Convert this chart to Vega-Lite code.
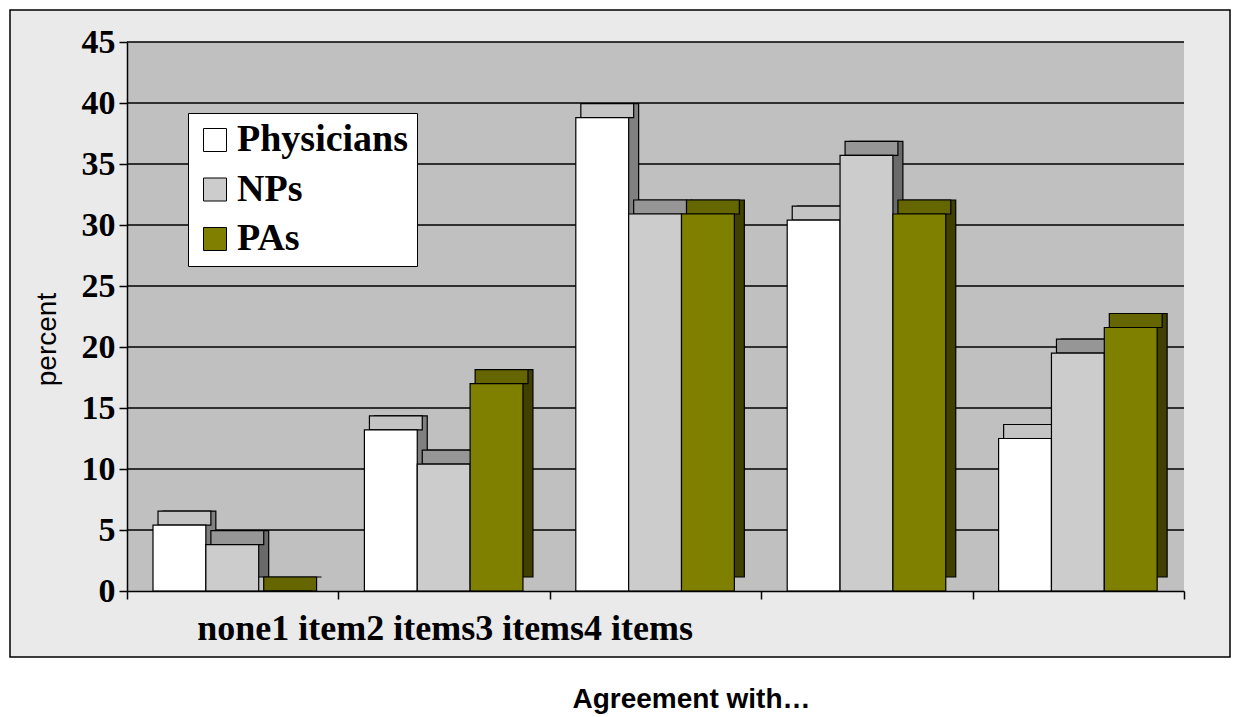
{
  "$schema": "https://vega.github.io/schema/vega-lite/v6.json",
  "width": 1057,
  "height": 549,
  "autosize": {"type": "none"},
  "padding": {"left": 127, "top": 42, "right": 57, "bottom": 126},
  "background": "white",
  "config": {"view": {"stroke": null}},
  "datasets": {
    "bars": [
      {"category": "none", "group": "Physicians", "value": 5.4},
      {"category": "none", "group": "NPs", "value": 3.8},
      {"category": "none", "group": "PAs", "value": 0},
      {"category": "1 item", "group": "Physicians", "value": 13.2},
      {"category": "1 item", "group": "NPs", "value": 10.4},
      {"category": "1 item", "group": "PAs", "value": 17.0},
      {"category": "2 items", "group": "Physicians", "value": 38.8},
      {"category": "2 items", "group": "NPs", "value": 30.9},
      {"category": "2 items", "group": "PAs", "value": 30.9},
      {"category": "3 items", "group": "Physicians", "value": 30.4},
      {"category": "3 items", "group": "NPs", "value": 35.7},
      {"category": "3 items", "group": "PAs", "value": 30.9},
      {"category": "4 items", "group": "Physicians", "value": 12.5},
      {"category": "4 items", "group": "NPs", "value": 19.5},
      {"category": "4 items", "group": "PAs", "value": 21.6}
    ],
    "grid": [{"tick": 5}, {"tick": 10}, {"tick": 15}, {"tick": 20}, {"tick": 25}, {"tick": 30}, {"tick": 35}, {"tick": 40}, {"tick": 45}]
  },
  "layer": [
    {
      "data": {"values": [{}]},
      "mark": {"type": "rect", "fill": "#EAEAEA", "stroke": "black", "strokeWidth": 1.5, "clip": false},
      "encoding": {"x": {"value": -117}, "x2": {"value": 1103}, "y": {"value": -32}, "y2": {"value": 615}}
    },
    {
      "data": {"values": [{}]},
      "mark": {"type": "rect", "fill": "#C0C0C0"},
      "encoding": {"x": {"value": 0}, "x2": {"value": "width"}, "y": {"value": 0}, "y2": {"value": "height"}}
    },
    {
      "data": {"name": "grid"},
      "mark": {"type": "rule", "color": "black", "strokeWidth": 1.5},
      "encoding": {
        "y": {
          "field": "tick", "type": "quantitative", "title": "percent",
          "scale": {"domain": [0, 45], "nice": false},
          "axis": {
            "values": [0, 5, 10, 15, 20, 25, 30, 35, 40, 45], "grid": false,
            "title": "percent", "titleFont": "Liberation Sans", "titleFontWeight": "normal", "titleFontSize": 28, "titleColor": "black",
            "titleX": -80, "titleY": 297, "titleAngle": -90, "titleAlign": "center", "titleBaseline": "middle",
            "labelFont": "Liberation Serif", "labelFontWeight": "bold", "labelFontSize": 34, "labelColor": "black", "labelPadding": 4,
            "tickSize": 8, "tickColor": "black", "tickWidth": 1.5, "domainColor": "black", "domainWidth": 1.5, "zindex": 1
          }
        }
      }
    },
    {
      "data": {"name": "bars"},
      "encoding": {
        "x": {
          "field": "category", "type": "nominal",
          "sort": ["none", "1 item", "2 items", "3 items", "4 items"],
          "scale": {"paddingInner": 0, "paddingOuter": 0},
          "axis": {
            "title": "Agreement with…", "titleFont": "Liberation Sans", "titleFontWeight": "bold", "titleFontSize": 28, "titleColor": "black",
            "titleX": 564, "titleY": 116, "titleAlign": "center", "titleBaseline": "alphabetic", "titleAnchor": null,
            "labelExpr": "datum.value == 'none' ? 'none1 item2 items3 items4 items' : ''",
            "labelAlign": "left", "labelOffset": -36, "labelFont": "Liberation Serif", "labelFontWeight": "bold", "labelFontSize": 36,
            "labelColor": "black", "labelPadding": 40, "labelBaseline": "alphabetic", "labelAngle": 0, "labelOverlap": false, "labelBound": false, "labelFlush": false, "labelLimit": 0,
            "tickBand": "extent", "tickSize": 8, "tickColor": "black", "tickWidth": 1.5, "domainColor": "black", "domainWidth": 1.5, "grid": false, "zindex": 1
          }
        },
        "y": {
          "field": "value", "type": "quantitative", "title": "percent",
          "scale": {"domain": [0, 45], "nice": false},
          "axis": {
            "values": [0, 5, 10, 15, 20, 25, 30, 35, 40, 45], "grid": false,
            "title": "percent", "titleFont": "Liberation Sans", "titleFontWeight": "normal", "titleFontSize": 28, "titleColor": "black",
            "titleX": -80, "titleY": 297, "titleAngle": -90, "titleAlign": "center", "titleBaseline": "middle",
            "labelFont": "Liberation Serif", "labelFontWeight": "bold", "labelFontSize": 34, "labelColor": "black", "labelPadding": 4,
            "tickSize": 8, "tickColor": "black", "tickWidth": 1.5, "domainColor": "black", "domainWidth": 1.5, "zindex": 1
          }
        }
      },
      "layer": [
        {
          "mark": {"type": "bar", "stroke": "black", "strokeWidth": 1.2, "yOffset": -14, "y2Offset": -14},
          "encoding": {
            "xOffset": {"field": "group", "type": "nominal", "sort": ["Physicians", "NPs", "PAs"], "scale": {"paddingInner": 0, "paddingOuter": 0.5, "align": 0.681}},
            "color": {"field": "group", "type": "nominal", "legend": null,
              "scale": {"domain": ["Physicians", "NPs", "PAs"], "range": ["#808080", "#6A6A6A", "#404000"]}}
          }
        },
        {
          "mark": {"type": "bar", "stroke": "black", "strokeWidth": 1.2, "yOffset": -14, "y2Offset": 0},
          "encoding": {
            "xOffset": {"field": "group", "type": "nominal", "sort": ["Physicians", "NPs", "PAs"], "scale": {"paddingInner": 0, "paddingOuter": 0.5, "align": 0.587}},
            "y2": {"field": "value"},
            "color": {"field": "group", "type": "nominal", "legend": null,
              "scale": {"domain": ["Physicians", "NPs", "PAs"], "range": ["#C4C4C4", "#969696", "#666600"]}}
          }
        },
        {
          "mark": {"type": "bar", "stroke": "black", "strokeWidth": 1.2},
          "encoding": {
            "xOffset": {"field": "group", "type": "nominal", "sort": ["Physicians", "NPs", "PAs"], "scale": {"paddingInner": 0, "paddingOuter": 0.5, "align": 0.492}},
            "color": {"field": "group", "type": "nominal",
              "scale": {"domain": ["Physicians", "NPs", "PAs"], "range": ["#FFFFFF", "#CCCCCC", "#808000"]},
              "legend": {
                "orient": "none", "legendX": 61, "legendY": 71, "title": null,
                "fillColor": "white", "strokeColor": "black", "padding": 8,
                "labelFont": "Liberation Serif", "labelFontWeight": "bold", "labelFontSize": 38, "labelColor": "black", "labelLimit": 0,
                "symbolType": "square", "symbolSize": 529, "symbolStrokeColor": "black", "symbolStrokeWidth": 1,
                "rowPadding": 11.5, "labelOffset": 3, "symbolOpacity": 1
              }
            }
          }
        }
      ],
      "resolve": {"scale": {"color": "independent", "xOffset": "independent"}}
    }
  ]
}
